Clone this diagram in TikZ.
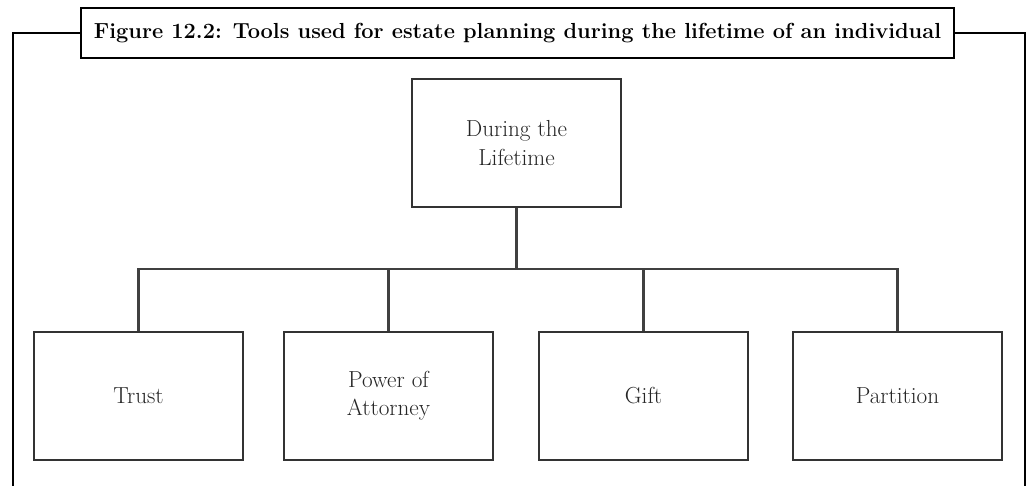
\documentclass[tikz,border=0pt]{standalone}
\usepackage{tikz}
\usetikzlibrary{positioning}

\begin{document}
\begin{tikzpicture}[x=0.025cm,y=-0.025cm]
		\tikzstyle{BoxStyle}=[draw=black!80,line width=1.3pt,fill=white,
		  minimum width=5.225cm,minimum height=3.2cm,align=center,
		  font=\fontsize{16.5}{20}\selectfont,text=black!85]
		\tikzstyle{TitleStyle}=[draw=black,line width=1.4pt,fill=white,
		  minimum width=21.825cm,minimum height=1.25cm,
		  font=\fontsize{15.5}{18}\selectfont\bfseries]
		\tikzstyle{EdgeStyle}=[draw=black!75,line width=1.6pt]
		\useasboundingbox (0,0) rectangle (1028,486);
		% frame and title
		\node[TitleStyle] (title) at (517.5,33)
		  {Figure 12.2: Tools used for estate planning during the lifetime of an individual};
		\draw[line width=1.4pt] (title.west) -| (13,490);
		\draw[line width=1.4pt] (title.east) -| (1025,490);
		% boxes
		\node[BoxStyle] (life) at (516.5,143) {During the\\Lifetime};
		\node[BoxStyle] (trust) at (138.5,396) {Trust};
		\node[BoxStyle] (power) at (388.5,396) {Power of\\Attorney};
		\node[BoxStyle] (gift) at (643.5,396) {Gift};
		\node[BoxStyle] (part) at (897.5,396) {Partition};
		\coordinate (bus) at (516.5,269);
		% connectors
		\draw[EdgeStyle] (life.south) -- (bus);
		\draw[EdgeStyle] (trust.north) |- (bus) -| (part.north);
		\draw[EdgeStyle] (power.north) -- (power.north |- bus);
		\draw[EdgeStyle] (gift.north) -- (gift.north |- bus);
\end{tikzpicture}
\end{document}
